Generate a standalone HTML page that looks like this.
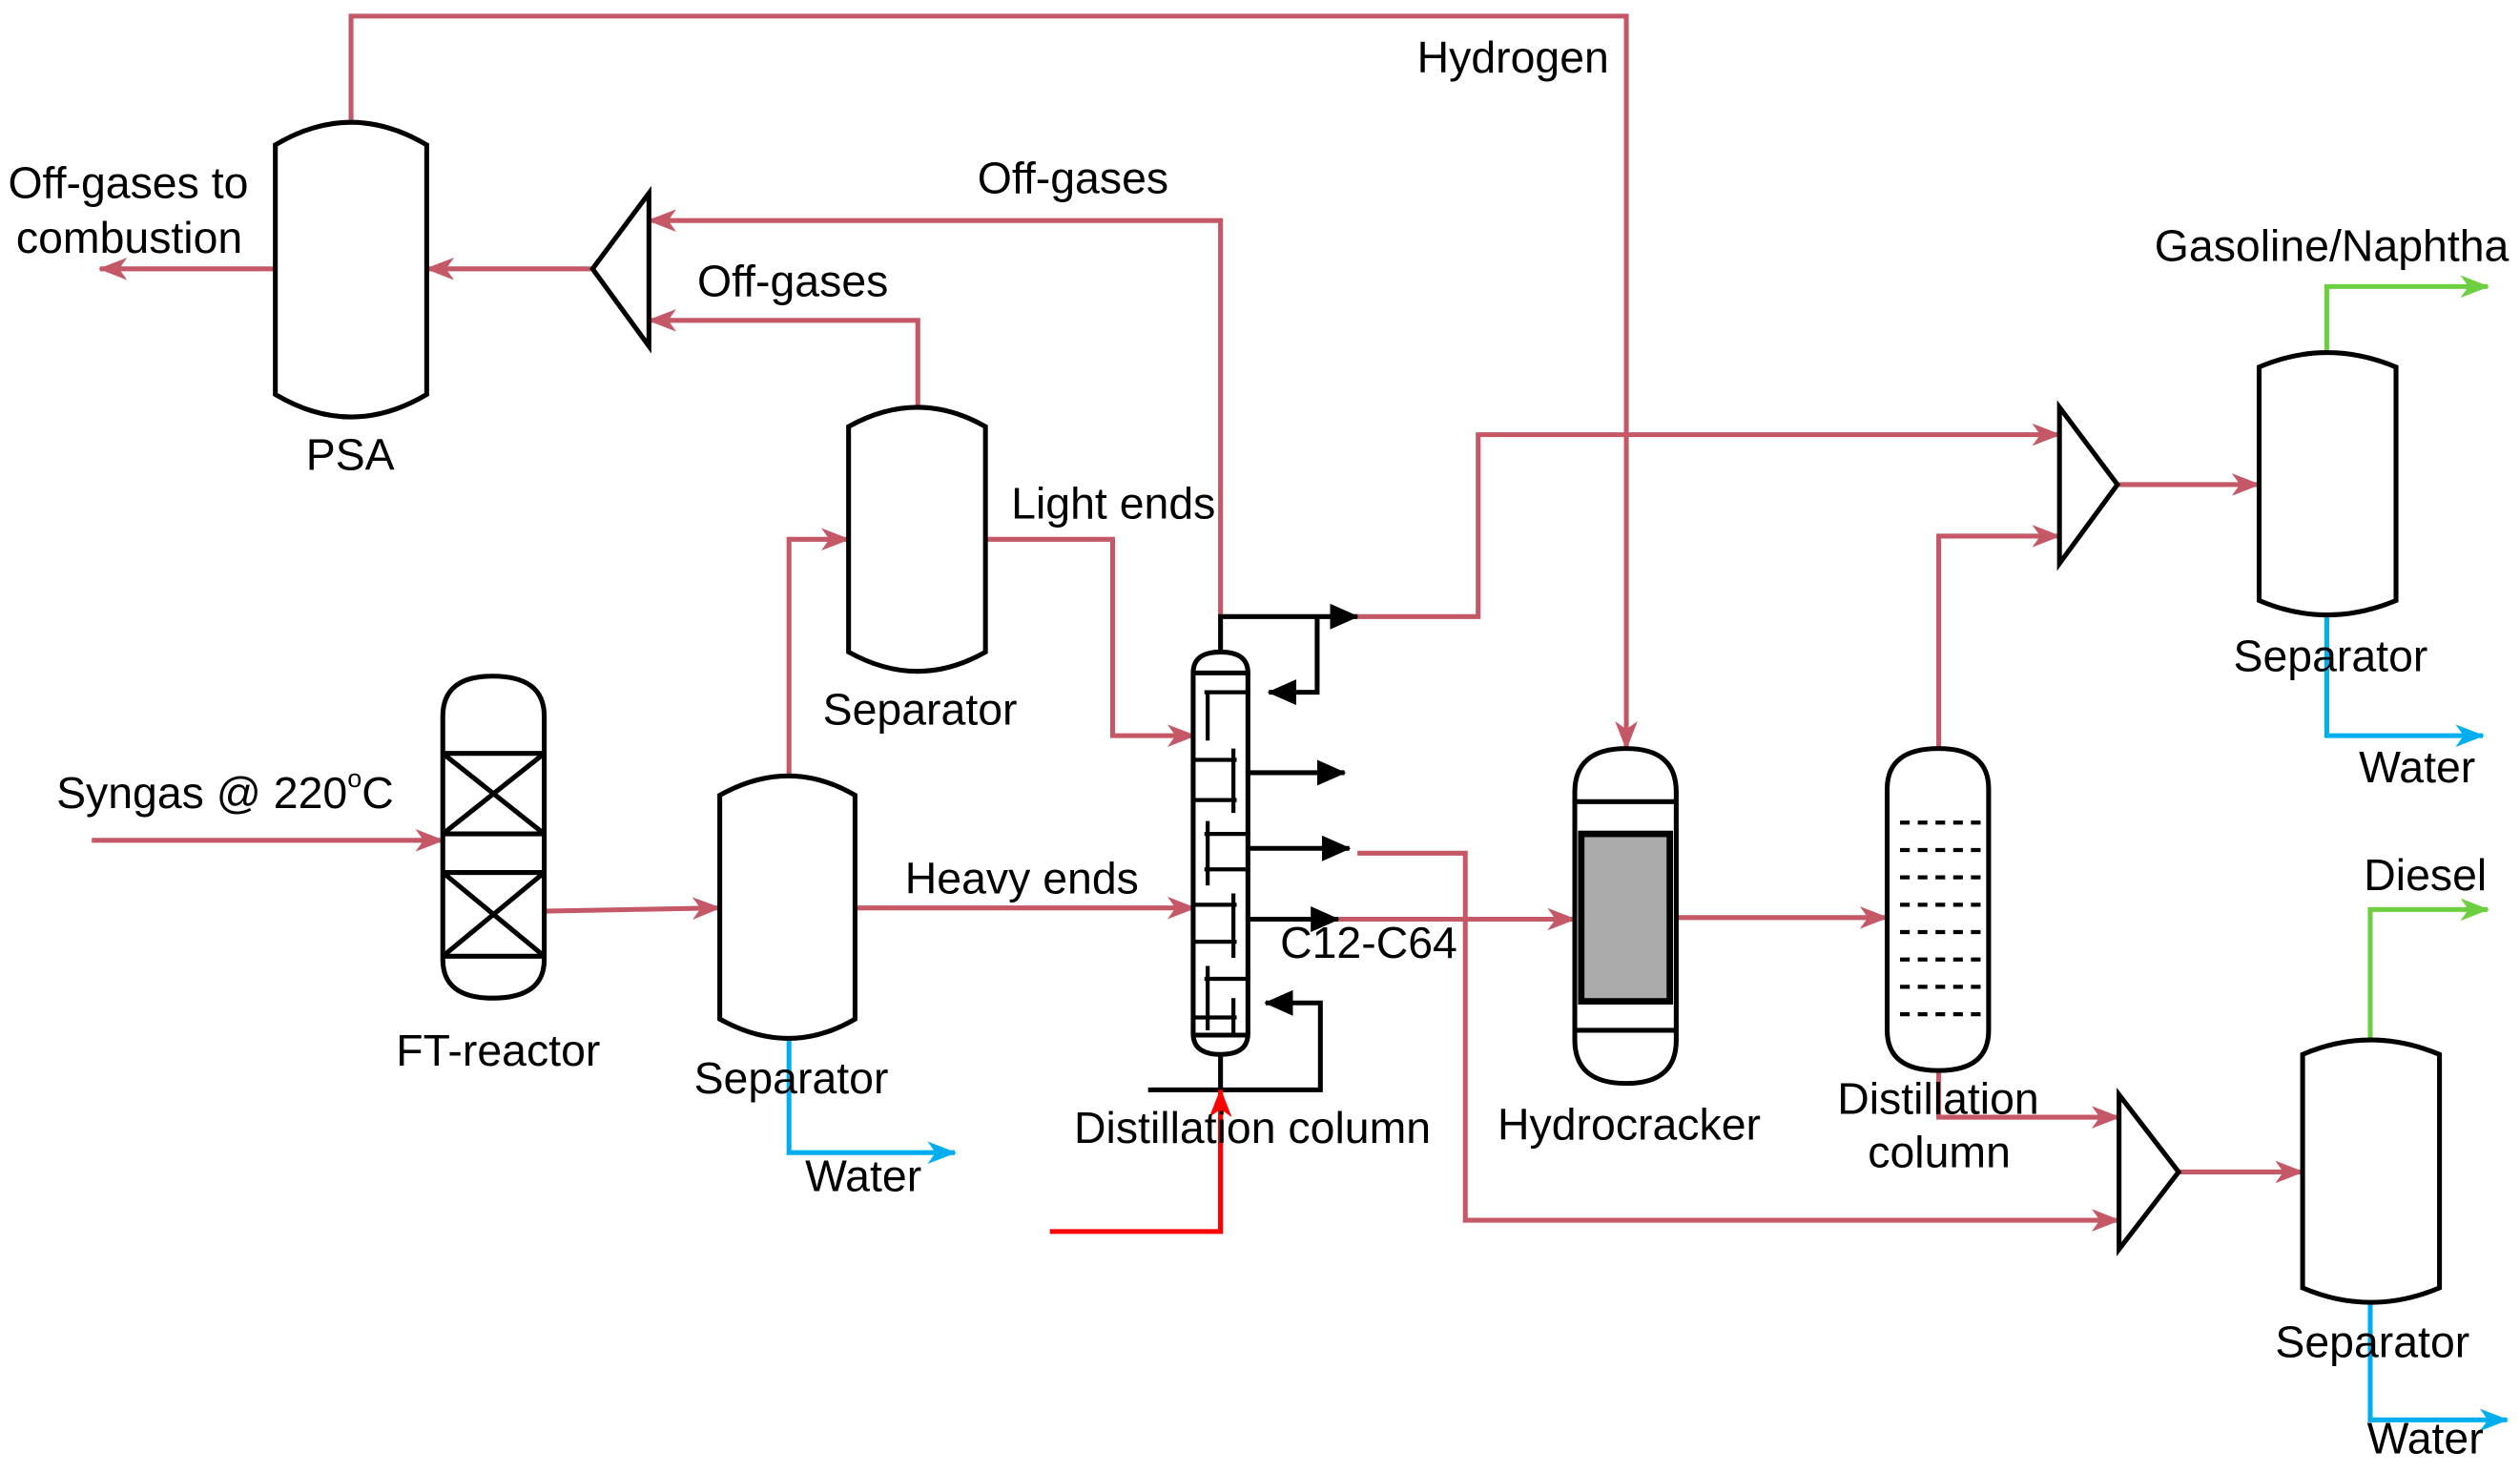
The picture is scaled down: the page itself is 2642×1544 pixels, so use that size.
<!DOCTYPE html>
<html><head><meta charset="utf-8"><style>
html,body{margin:0;padding:0;background:#fff;}
svg{display:block;}
text{font-family:"Liberation Sans",Arial,sans-serif;font-size:27.5px;fill:#000;}
</style></head><body>
<svg width="2642" height="1544" viewBox="0 0 1565 915" preserveAspectRatio="none" xmlns="http://www.w3.org/2000/svg">
<defs>
<marker id="ar" markerUnits="userSpaceOnUse" markerWidth="18" markerHeight="14" refX="17" refY="7" orient="auto"><path d="M0,0 L18,7 L0,14 L5,7 z" fill="#c45866"/></marker>
<marker id="ab" markerUnits="userSpaceOnUse" markerWidth="18" markerHeight="14" refX="17" refY="7" orient="auto"><path d="M0,0 L18,7 L0,14 L5,7 z" fill="#00aeef"/></marker>
<marker id="ag" markerUnits="userSpaceOnUse" markerWidth="18" markerHeight="14" refX="17" refY="7" orient="auto"><path d="M0,0 L18,7 L0,14 L5,7 z" fill="#6ccf3f"/></marker>
<marker id="ak" markerUnits="userSpaceOnUse" markerWidth="18" markerHeight="16" refX="17" refY="8" orient="auto"><path d="M0,0 L18,8 L0,16 z" fill="#000"/></marker>
<marker id="arr" markerUnits="userSpaceOnUse" markerWidth="18" markerHeight="14" refX="17" refY="7" orient="auto"><path d="M0,0 L18,7 L0,14 L5,7 z" fill="#ff0000"/></marker>
</defs>

<g fill="none" stroke="#c45866" stroke-width="3">
<polyline points="218,78 218,10 1010,10 1010,465" marker-end="url(#ar)"/>
<line x1="171" y1="167" x2="62" y2="167" marker-end="url(#ar)"/>
<line x1="368" y1="167" x2="265" y2="167" marker-end="url(#ar)"/>
<polyline points="758,383 758,137 403,137" marker-end="url(#ar)"/>
<polyline points="570,253 570,199 403,199" marker-end="url(#ar)"/>
<polyline points="612,335 691,335 691,457 742,457" marker-end="url(#ar)"/>
<polyline points="490,482 490,335 527,335" marker-end="url(#ar)"/>
<line x1="531" y1="564" x2="742" y2="564" marker-end="url(#ar)"/>
<line x1="57" y1="522" x2="275" y2="522" marker-end="url(#ar)"/>
<line x1="338" y1="566" x2="447" y2="564" marker-end="url(#ar)"/>
<polyline points="843,383 918,383 918,270 1279,270" marker-end="url(#ar)"/>
<line x1="830" y1="571" x2="978" y2="571" marker-end="url(#ar)"/>
<polyline points="843,530 910,530 910,758 1316,758" marker-end="url(#ar)"/>
<line x1="1041" y1="570" x2="1172" y2="570" marker-end="url(#ar)"/>
<polyline points="1204,465 1204,333 1279,333" marker-end="url(#ar)"/>
<polyline points="1204,665 1204,694 1316,694" marker-end="url(#ar)"/>
<line x1="1315" y1="301" x2="1403" y2="301" marker-end="url(#ar)"/>
<line x1="1353" y1="728" x2="1430" y2="728" marker-end="url(#ar)"/>
</g>
<polyline points="652,765 758,765 758,677" fill="none" stroke="#ff0000" stroke-width="3" marker-end="url(#arr)"/>
<g fill="none" stroke="#00aeef" stroke-width="3">
<polyline points="490,645 490,716 593,716" marker-end="url(#ab)"/>
<polyline points="1445,383 1445,457 1542,457" marker-end="url(#ab)"/>
<polyline points="1472,810 1472,882 1557,882" marker-end="url(#ab)"/>
</g>
<g fill="none" stroke="#6ccf3f" stroke-width="3">
<polyline points="1445,218 1445,178 1545,178" marker-end="url(#ag)"/>
<polyline points="1472,645 1472,565 1545,565" marker-end="url(#ag)"/>
</g>

<g fill="none" stroke="#000" stroke-width="3">
<path d="M171,90 Q218,62 265,90 V245 Q218,273 171,245 Z" fill="#fff"/>
<polygon points="368,167 403,120 403,215" fill="#fff"/>
<path d="M527,265 Q570,241 612,265 V405 Q570,429 527,405 Z" fill="#fff"/>
<path d="M447,494 Q490,470 531,494 V633 Q490,657 447,633 Z" fill="#fff"/>
<path d="M275,445 Q275,420 306,420 Q338,420 338,445 V596 Q338,620 306,620 Q275,620 275,596 Z" fill="#fff"/>
<line x1="275" y1="468" x2="338" y2="468"/><line x1="275" y1="518" x2="338" y2="518"/>
<line x1="275" y1="542" x2="338" y2="542"/><line x1="275" y1="594" x2="338" y2="594"/>
<line x1="275" y1="468" x2="338" y2="518"/><line x1="338" y1="468" x2="275" y2="518"/>
<line x1="275" y1="542" x2="338" y2="594"/><line x1="338" y1="542" x2="275" y2="594"/>
<path d="M741,418 Q741,405 758,405 Q775,405 775,418 V642 Q775,655 758,655 Q741,655 741,642 Z" fill="#fff"/>
<line x1="741" y1="418" x2="775" y2="418"/><line x1="741" y1="643" x2="775" y2="643"/>
<g stroke-width="2.5">
<line x1="748" y1="430" x2="775" y2="430"/><line x1="750" y1="430" x2="750" y2="460"/>
<line x1="741" y1="472" x2="768" y2="472"/><line x1="766" y1="465" x2="766" y2="505"/>
<line x1="748" y1="518" x2="775" y2="518"/><line x1="750" y1="510" x2="750" y2="550"/>
<line x1="741" y1="562" x2="768" y2="562"/><line x1="766" y1="555" x2="766" y2="595"/>
<line x1="748" y1="608" x2="775" y2="608"/><line x1="750" y1="600" x2="750" y2="640"/>
<line x1="741" y1="497" x2="768" y2="497"/><line x1="741" y1="585" x2="768" y2="585"/>
<line x1="748" y1="540" x2="775" y2="540"/><line x1="741" y1="632" x2="768" y2="632"/><line x1="766" y1="620" x2="766" y2="642"/>
</g>
<polyline points="758,405 758,383 843,383" marker-end="url(#ak)"/>
<polyline points="818,383 818,430 788,430" marker-end="url(#ak)"/>
<line x1="775" y1="480" x2="835" y2="480" marker-end="url(#ak)"/>
<line x1="775" y1="527" x2="838" y2="527" marker-end="url(#ak)"/>
<line x1="775" y1="571" x2="831" y2="571" marker-end="url(#ak)"/>
<line x1="758" y1="655" x2="758" y2="677"/>
<polyline points="713,677 820,677 820,623 786,623" marker-end="url(#ak)"/>
<path d="M978,492 Q978,465 1010,465 Q1041,465 1041,492 V646 Q1041,673 1010,673 Q978,673 978,646 Z" fill="#fff"/>
<line x1="978" y1="498" x2="1041" y2="498"/><line x1="978" y1="640" x2="1041" y2="640"/>
<rect x="982" y="518" width="55" height="104" fill="#aaa" stroke-width="4"/>
<path d="M1172,490 Q1172,465 1204,465 Q1235,465 1235,490 V640 Q1235,665 1204,665 Q1172,665 1172,640 Z" fill="#fff"/>
<g stroke-dasharray="6,5" stroke-width="2.5">
<line x1="1180" y1="511" x2="1230" y2="511"/><line x1="1180" y1="528" x2="1230" y2="528"/>
<line x1="1180" y1="545" x2="1230" y2="545"/><line x1="1180" y1="562" x2="1230" y2="562"/>
<line x1="1180" y1="579" x2="1230" y2="579"/><line x1="1180" y1="596" x2="1230" y2="596"/>
<line x1="1180" y1="613" x2="1230" y2="613"/><line x1="1180" y1="630" x2="1230" y2="630"/>
</g>
<polygon points="1279,253 1279,350 1315,301" fill="#fff"/>
<polygon points="1316,680 1316,776 1353,728" fill="#fff"/>
<path d="M1403,228 Q1445,210 1488,228 V373 Q1445,391 1403,373 Z" fill="#fff"/>
<path d="M1430,655 Q1472,637 1515,655 V800 Q1472,818 1430,800 Z" fill="#fff"/>
</g>
<line x1="758" y1="677" x2="758" y2="766" stroke="#ff0000" stroke-width="3"/>

<text x="880" y="45">Hydrogen</text>
<text x="5" y="123">Off-gases to</text>
<text x="10" y="157">combustion</text>
<text x="190" y="292">PSA</text>
<text x="607" y="120">Off-gases</text>
<text x="433" y="184">Off-gases</text>
<text x="628" y="322">Light ends</text>
<text x="511" y="450">Separator</text>
<text x="35" y="502">Syngas @ 220<tspan font-size="16" dy="-13">o</tspan><tspan dy="13">C</tspan></text>
<text x="562" y="555">Heavy ends</text>
<text x="246" y="662">FT-reactor</text>
<text x="431" y="679">Separator</text>
<text x="500" y="740">Water</text>
<text x="795" y="595">C12-C64</text>
<text x="667" y="710">Distillation column</text>
<text x="930" y="708">Hydrocracker</text>
<text x="1141" y="692">Distillation</text>
<text x="1160" y="725">column</text>
<text x="1338" y="162">Gasoline/Naphtha</text>
<text x="1387" y="417">Separator</text>
<text x="1465" y="486">Water</text>
<text x="1468" y="553">Diesel</text>
<text x="1413" y="843">Separator</text>
<text x="1470" y="903">Water</text>
</svg>
</body></html>
